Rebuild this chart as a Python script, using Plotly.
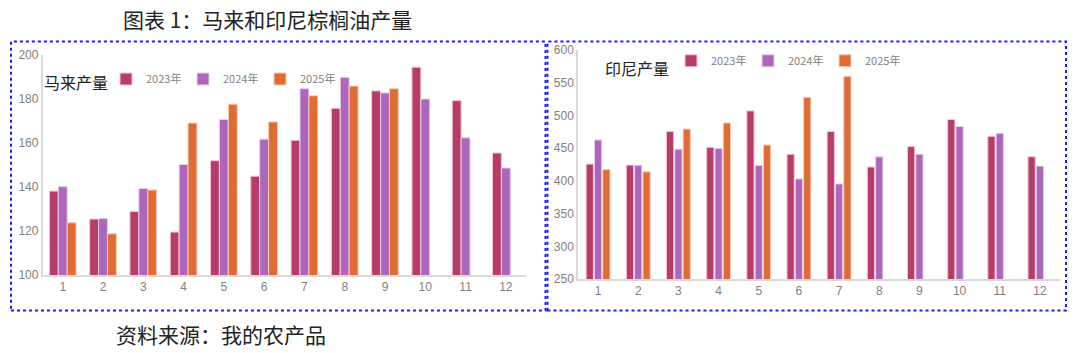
import plotly.graph_objects as go

W, H = 1080, 353

months = [str(i) for i in range(1, 13)]

# Malaysia production
my_2023 = [138.2, 125.5, 128.9, 119.6, 152.0, 145.0, 161.3, 175.8, 183.7, 194.5, 179.3, 155.5]
my_2024 = [140.2, 125.8, 139.4, 150.3, 170.7, 161.8, 184.7, 189.8, 182.8, 180.0, 162.4, 148.7]
my_2025 = [123.8, 118.8, 138.7, 169.1, 177.7, 169.6, 181.5, 185.9, 184.7, None, None, None]

# Indonesia production
id_2023 = [425.8, 424.3, 475.6, 451.6, 507.2, 440.9, 475.6, 421.4, 452.6, 494.0, 468.3, 437.0]
id_2024 = [462.8, 424.0, 448.6, 449.7, 423.7, 403.2, 395.5, 437.0, 440.9, 483.3, 473.0, 422.8]
id_2025 = [417.4, 414.0, 479.4, 488.8, 455.0, 527.7, 560.0, None, None, None, None, None]

series_names = ["2023年", "2024年", "2025年"]
colors = ["#B83C68", "#AE66BA", "#E06C35"]
edge = ["#F2C6D6", "#E6CFEE", "#F7CDB6"]

# bar geometry (category units)
left_width = 0.221
left_offsets = [-0.3315, -0.1105, 0.1105]
right_width = 0.18
right_offsets = [-0.297, -0.09, 0.117]

fig = go.Figure()

for name, vals, c, e, off in zip(series_names, [my_2023, my_2024, my_2025], colors, edge, left_offsets):
    fig.add_trace(go.Bar(x=months, y=vals, name=name, width=left_width, offset=off,
                         marker=dict(color=c, line=dict(color=e, width=1)),
                         xaxis="x", yaxis="y", legend="legend"))
for name, vals, c, e, off in zip(series_names, [id_2023, id_2024, id_2025], colors, edge, right_offsets):
    fig.add_trace(go.Bar(x=months, y=vals, name=name, width=right_width, offset=off,
                         marker=dict(color=c, line=dict(color=e, width=1)),
                         xaxis="x2", yaxis="y2", legend="legend2"))

def px_x(p):
    return p / W

def px_y(p):
    return (H - p) / H

tick_font = dict(family="Liberation Sans Narrow, Arial Narrow, Liberation Sans, sans-serif", size=12, color="#7f7f7f")
axis_common = dict(showgrid=False, zeroline=False, showline=True, linecolor="#d9d9d9", linewidth=1.5,
                   ticks="", tickfont=tick_font)

legend_font = dict(family="Liberation Sans Narrow, Arial Narrow, Noto Sans CJK SC, sans-serif", size=11, color="#7f7f7f")

fig.update_layout(
    width=W, height=H,
    margin=dict(l=0, r=0, t=0, b=0),
    paper_bgcolor="white", plot_bgcolor="white",
    barmode="overlay",
    xaxis=dict(domain=[px_x(42.6), px_x(526)], anchor="y", range=[-0.5, 11.5], **axis_common),
    yaxis=dict(domain=[px_y(279.3), px_y(50)], range=[100, 200], dtick=20, anchor="x", **axis_common),
    xaxis2=dict(domain=[px_x(578), px_x(1060)], anchor="y2", range=[-0.5, 11.5], **axis_common),
    yaxis2=dict(domain=[px_y(283.3), px_y(45)], range=[250, 600], dtick=50, anchor="x2", **axis_common),
    legend=dict(orientation="h", x=px_x(106), y=px_y(75), xanchor="left", yanchor="middle",
                font=legend_font, bgcolor="rgba(0,0,0,0)", itemwidth=30, tracegroupgap=0,
                entrywidth=32, entrywidthmode="pixels"),
    legend2=dict(orientation="h", x=px_x(671), y=px_y(56), xanchor="left", yanchor="middle",
                 font=legend_font, bgcolor="rgba(0,0,0,0)", itemwidth=30, tracegroupgap=0,
                 entrywidth=32, entrywidthmode="pixels"),
    showlegend=True,
)

cjk = "Noto Sans CJK SC"
annotations = [
    dict(text="图表 1：马来和印尼棕榈油产量", x=px_x(267), y=px_y(13), xref="paper", yref="paper",
         xanchor="center", yanchor="middle", showarrow=False, font=dict(family=cjk, size=21, color="#222222")),
    dict(text="资料来源：我的农产品", x=px_x(114), y=px_y(340), xref="paper", yref="paper",
         xanchor="left", yanchor="middle", showarrow=False, font=dict(family=cjk, size=21, color="#222222")),
    dict(text="马来产量", x=px_x(42), y=px_y(78), xref="paper", yref="paper",
         xanchor="left", yanchor="middle", showarrow=False, font=dict(family=cjk, size=16, color="#222222")),
    dict(text="印尼产量", x=px_x(603), y=px_y(63), xref="paper", yref="paper",
         xanchor="left", yanchor="middle", showarrow=False, font=dict(family=cjk, size=16, color="#222222")),
]
fig.update_layout(annotations=annotations)

shapes = [
    dict(type="rect", xref="paper", yref="paper", x0=px_x(11), x1=px_x(545.5), y0=px_y(316), y1=px_y(36),
         line=dict(color="#1a1aff", width=2, dash="dot"), fillcolor="rgba(0,0,0,0)", layer="below"),
    dict(type="rect", xref="paper", yref="paper", x0=px_x(547.5), x1=px_x(1066), y0=px_y(316), y1=px_y(36),
         line=dict(color="#1a1aff", width=2, dash="dot"), fillcolor="rgba(0,0,0,0)", layer="below"),
]
fig.update_layout(shapes=shapes)

fig.write_html("out.html")
